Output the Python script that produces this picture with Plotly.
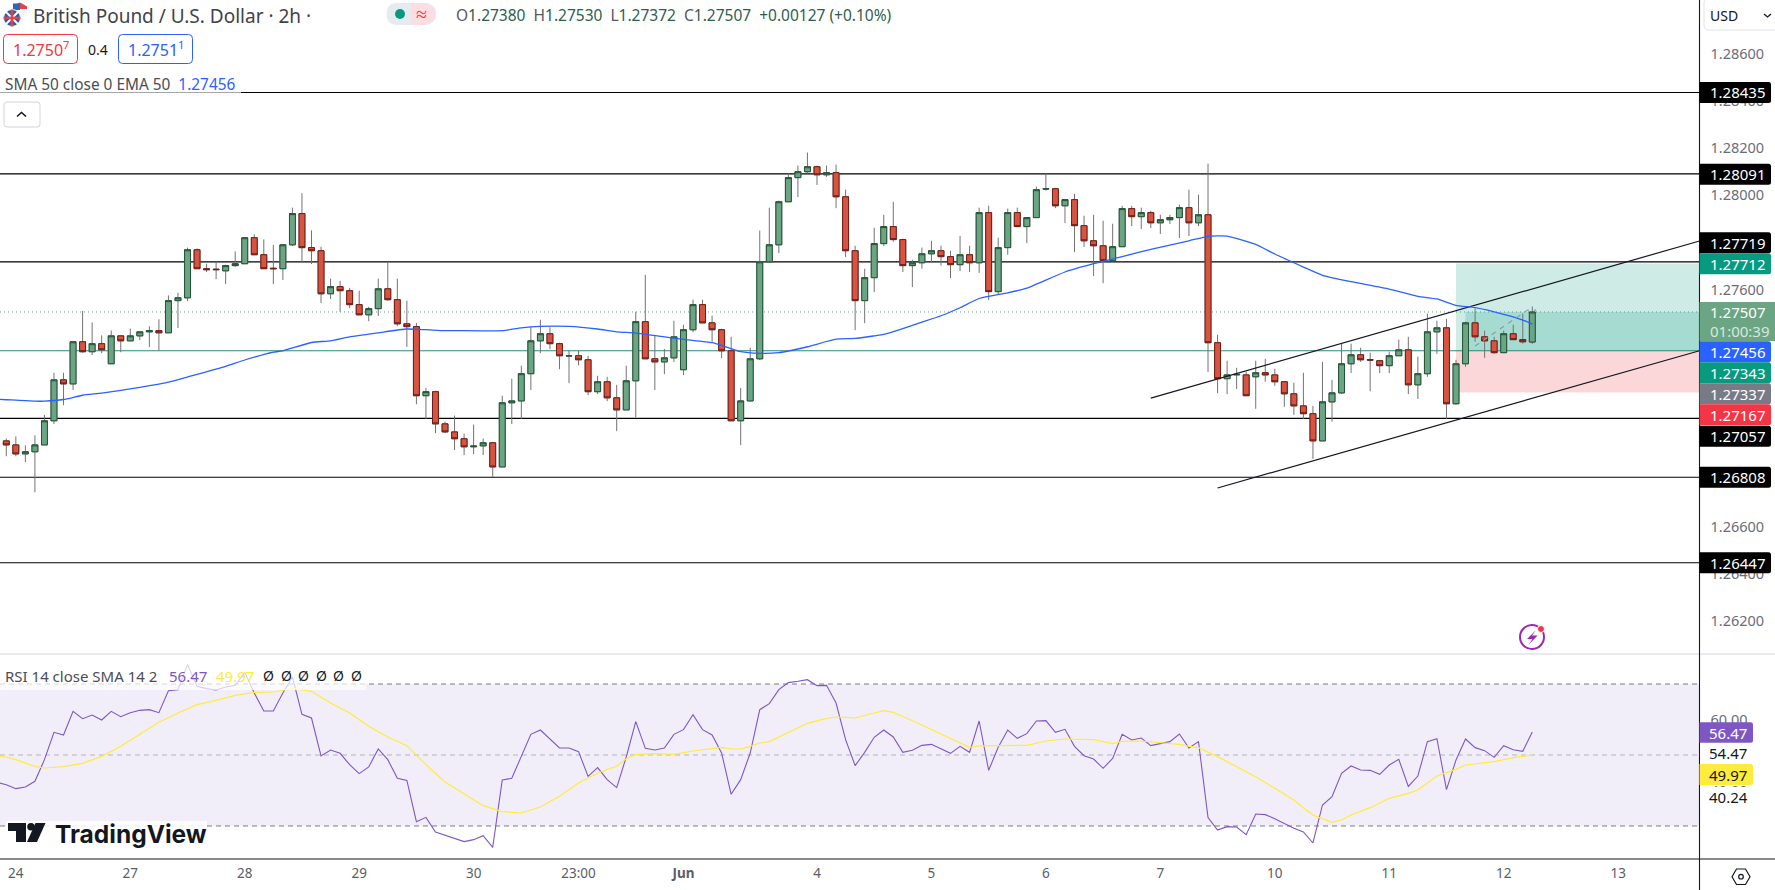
import plotly.graph_objects as go

W, H = 1775, 890
FONT = "Noto Sans"

# ---------- data ----------
bar_index = list(range(161))
open_p = [1.26962,1.26945,1.26907,1.26916,1.26945,1.27047,1.27220,1.27203,1.27381,1.27339,
1.27373,1.27288,1.27406,1.27385,1.27406,1.27423,1.27428,1.27419,1.27555,1.27567,
1.27770,1.27690,1.27688,1.27681,1.27703,1.27711,1.27821,1.27749,1.27692,1.27690,
1.27791,1.27923,1.27779,1.27766,1.27584,1.27614,1.27597,1.27538,1.27495,1.27521,
1.27605,1.27559,1.27457,1.27445,1.27153,1.27170,1.27034,1.27000,1.26971,1.26937,
1.26941,1.26954,1.26852,1.27123,1.27131,1.27246,1.27385,1.27415,1.27373,1.27321,
1.27322,1.27305,1.27170,1.27212,1.27144,1.27093,1.27216,1.27466,1.27309,1.27296,
1.27313,1.27263,1.27432,1.27538,1.27461,1.27432,1.27343,1.27047,1.27131,1.27309,
1.27719,1.27791,1.27973,1.28075,1.28100,1.28121,1.28087,1.28096,1.27994,1.27766,
1.27555,1.27652,1.27796,1.27868,1.27813,1.27703,1.27715,1.27753,1.27766,1.27741,
1.27707,1.27749,1.27715,1.27927,1.27593,1.27779,1.27927,1.27868,1.27906,1.28027,
1.28028,1.27956,1.27982,1.27872,1.27808,1.27787,1.27724,1.27783,1.27944,1.27910,
1.27927,1.27884,1.27897,1.27906,1.27948,1.27884,1.27918,1.27377,1.27225,1.27241,
1.27241,1.27233,1.27250,1.27241,1.27212,1.27161,1.27110,1.27077,1.26962,1.27127,
1.27165,1.27288,1.27326,1.27305,1.27301,1.27280,1.27322,1.27347,1.27199,1.27246,
1.27423,1.27440,1.27119,1.27288,1.27461,1.27402,1.27385,1.27335,1.27415,1.27390,
1.27380]
high_p = [1.26972,1.26981,1.26943,1.26985,1.27072,1.27250,1.27250,1.27385,1.27512,1.27463,
1.27408,1.27429,1.27406,1.27437,1.27423,1.27446,1.27476,1.27577,1.27588,1.27779,
1.27776,1.27711,1.27719,1.27707,1.27763,1.27821,1.27835,1.27814,1.27791,1.27791,
1.27948,1.28009,1.27852,1.27783,1.27648,1.27639,1.27609,1.27597,1.27529,1.27648,
1.27719,1.27648,1.27555,1.27461,1.27186,1.27174,1.27043,1.27069,1.26993,1.27031,
1.26972,1.26958,1.27153,1.27225,1.27280,1.27445,1.27474,1.27442,1.27377,1.27343,
1.27343,1.27322,1.27237,1.27233,1.27199,1.27280,1.27508,1.27664,1.27406,1.27351,
1.27470,1.27453,1.27559,1.27559,1.27491,1.27436,1.27402,1.27186,1.27356,1.27851,
1.27948,1.27978,1.28092,1.28126,1.28181,1.28126,1.28126,1.28130,1.28024,1.27787,
1.27690,1.27863,1.27918,1.27973,1.27817,1.27728,1.27779,1.27808,1.27787,1.27766,
1.27829,1.27787,1.27948,1.27956,1.27821,1.27944,1.27948,1.27906,1.28037,1.28092,
1.28032,1.27982,1.28007,1.27914,1.27918,1.27893,1.27880,1.27956,1.27956,1.27948,
1.27935,1.27918,1.27918,1.27961,1.28024,1.28003,1.28134,1.27411,1.27301,1.27271,
1.27254,1.27301,1.27309,1.27267,1.27212,1.27208,1.27250,1.27110,1.27296,1.27220,
1.27374,1.27373,1.27356,1.27335,1.27305,1.27339,1.27390,1.27402,1.27318,1.27500,
1.27470,1.27478,1.27305,1.27466,1.27521,1.27428,1.27402,1.27428,1.27453,1.27500,
1.27530]
low_p = [1.26897,1.26897,1.26872,1.26745,1.26945,1.27033,1.27113,1.27177,1.27335,1.27325,
1.27333,1.27288,1.27337,1.27385,1.27388,1.27359,1.27343,1.27419,1.27439,1.27553,
1.27690,1.27676,1.27646,1.27625,1.27698,1.27711,1.27749,1.27690,1.27625,1.27642,
1.27786,1.27719,1.27710,1.27545,1.27562,1.27508,1.27523,1.27495,1.27468,1.27490,
1.27555,1.27447,1.27359,1.27117,1.27055,1.26995,1.26995,1.26923,1.26902,1.26906,
1.26902,1.26810,1.26852,1.27033,1.27055,1.27177,1.27333,1.27350,1.27265,1.27206,
1.27282,1.27155,1.27160,1.27130,1.27003,1.27093,1.27062,1.27309,1.27177,1.27244,
1.27296,1.27240,1.27422,1.27461,1.27381,1.27312,1.27047,1.26944,1.27131,1.27304,
1.27719,1.27756,1.27973,1.27993,1.28092,1.28044,1.28078,1.27946,1.27739,1.27430,
1.27460,1.27591,1.27786,1.27804,1.27676,1.27612,1.27690,1.27715,1.27703,1.27650,
1.27680,1.27676,1.27672,1.27557,1.27580,1.27749,1.27868,1.27798,1.27906,1.28020,
1.27946,1.27883,1.27760,1.27782,1.27659,1.27629,1.27724,1.27783,1.27870,1.27858,
1.27862,1.27837,1.27879,1.27820,1.27828,1.27870,1.27253,1.27164,1.27160,1.27181,
1.27153,1.27098,1.27212,1.27195,1.27106,1.27072,1.27055,1.26886,1.26962,1.27043,
1.27161,1.27249,1.27296,1.27172,1.27249,1.27249,1.27322,1.27160,1.27139,1.27233,
1.27330,1.27055,1.27115,1.27275,1.27381,1.27313,1.27330,1.27335,1.27390,1.27373,
1.27372]
close_p = [1.26945,1.26907,1.26916,1.26945,1.27047,1.27220,1.27203,1.27381,1.27339,1.27373,
1.27347,1.27406,1.27385,1.27406,1.27423,1.27428,1.27419,1.27555,1.27567,1.27770,
1.27690,1.27686,1.27686,1.27703,1.27711,1.27821,1.27749,1.27690,1.27690,1.27791,
1.27923,1.27779,1.27766,1.27584,1.27614,1.27597,1.27538,1.27495,1.27521,1.27605,
1.27559,1.27457,1.27445,1.27153,1.27170,1.27034,1.27000,1.26971,1.26937,1.26940,
1.26954,1.26852,1.27123,1.27131,1.27246,1.27385,1.27415,1.27373,1.27322,1.27322,
1.27305,1.27170,1.27212,1.27144,1.27093,1.27216,1.27466,1.27309,1.27296,1.27313,
1.27402,1.27432,1.27538,1.27461,1.27432,1.27343,1.27047,1.27131,1.27309,1.27719,
1.27791,1.27973,1.28075,1.28100,1.28121,1.28087,1.28096,1.27994,1.27766,1.27555,
1.27652,1.27796,1.27868,1.27813,1.27703,1.27715,1.27753,1.27766,1.27741,1.27707,
1.27749,1.27715,1.27927,1.27593,1.27779,1.27927,1.27868,1.27906,1.28024,1.28028,
1.27956,1.27982,1.27872,1.27808,1.27787,1.27724,1.27783,1.27944,1.27910,1.27927,
1.27884,1.27897,1.27906,1.27948,1.27884,1.27918,1.27377,1.27225,1.27241,1.27243,
1.27153,1.27250,1.27241,1.27212,1.27161,1.27110,1.27077,1.26962,1.27127,1.27165,
1.27288,1.27326,1.27305,1.27304,1.27280,1.27322,1.27347,1.27199,1.27246,1.27423,
1.27440,1.27119,1.27288,1.27461,1.27402,1.27385,1.27335,1.27415,1.27390,1.27381,
1.27507]

ema_bars = [-1,0,1,3,4,6,8,10,14,17,19,23,25,28,29,32,34,36,39,42,44,46,47,52,54,56,59,62,64,66,69,71,74,75,77,79,81,84,87,89,91,
            92,94,96,98,100,102,105,107,111,114,117,120,124,126,128,131,133,136,138,141,145,148,150,152,154,157,159,160]
ema_vals = [1.27138,1.27136,1.27134,1.27130,1.27130,1.27137,1.27155,1.27164,1.27188,1.27210,1.27232,1.27277,1.27304,1.27337,1.27343,1.27378,1.27385,1.27402,1.27419,1.27435,1.27432,1.27428,
            1.27428,1.27428,1.27440,1.27446,1.27446,1.27435,1.27423,1.27418,1.27402,1.27391,1.27377,1.27366,1.27339,1.27332,1.27335,1.27360,1.27392,1.27395,1.27406,
            1.27412,1.27437,1.27464,1.27491,1.27525,1.27564,1.27588,1.27608,1.27676,1.27711,1.27741,1.27772,1.27808,1.27827,1.27828,1.27793,1.27752,1.27697,1.27662,1.27635,1.27604,1.27573,1.27562,1.27535,1.27525,1.27497,1.27473,1.27456]

rsi_bars = [-1] + bar_index
rsi_vals = [42.30,41.64,40.52,40.99,42.58,48.69,56.38,55.63,62.30,60.23,61.27,
59.86,62.30,60.80,61.92,62.58,62.77,61.92,68.12,68.40,75.45,
69.34,68.69,68.31,69.15,69.62,73.29,67.46,62.39,62.39,67.46,
71.97,61.46,60.42,49.72,51.41,50.47,47.28,44.74,46.62,51.69,
48.69,43.43,42.86,31.22,32.44,28.31,27.37,26.62,25.59,26.15,
27.28,23.99,42.96,43.43,49.62,55.82,57.04,54.51,51.97,51.97,
50.94,43.99,46.43,43.05,40.80,49.44,59.39,51.88,51.41,51.97,
55.82,57.14,61.36,57.14,55.63,50.56,38.92,43.05,50.56,62.77,
64.46,68.40,70.38,70.75,71.22,69.53,69.62,64.65,54.32,47.00,
50.75,54.98,57.04,55.07,50.75,51.31,52.72,53.00,51.78,50.47,
52.44,50.75,59.58,45.68,52.16,57.04,54.69,56.01,59.58,59.67,
56.38,57.23,52.44,49.81,48.87,46.24,49.06,55.82,54.23,54.79,
52.63,53.19,53.76,55.92,51.97,53.76,32.35,28.87,29.81,29.72,
27.56,33.38,33.19,32.07,30.75,29.34,28.31,25.21,35.92,38.26,
44.84,46.90,45.77,45.68,44.55,47.18,48.78,41.17,44.08,53.76,
54.60,40.23,48.59,54.51,52.07,51.22,49.34,52.63,51.50,51.03,
56.47]

sma_bars = [-1,0,1,3,4,6,8,10,12,14,16,18,20,22,24,26,28,30,32,34,36,38,40,42,44,46,48,50,52,54,56,58,60,62,64,65,66,68,70,72,74,75,76,77,78,79,80,82,84,86,87,88,89,91,92,93,94,96,98,100,101,102,104,106,107,108,109,111,112,114,116,117,119,121,123,124,125,127,129,131,133,135,136,137,139,140,141,143,145,147,148,149,150,151,152,153,155,156,158,160]
sma_vals = [49.62,49.44,48.69,46.81,46.34,46.71,47.65,49.62,52.44,55.73,59.20,61.83,64.18,65.40,66.81,67.65,67.75,68.78,67.93,64.65,61.83,58.08,55.07,52.63,47.28,42.39,39.01,35.73,34.04,33.66,35.35,38.36,42.11,44.93,46.81,48.97,50.09,50.38,50.19,51.13,51.78,52.16,51.69,51.69,52.44,53.38,53.76,56.38,58.92,60.33,60.70,60.61,60.42,61.83,62.49,62.02,60.89,58.45,55.92,53.29,52.16,52.54,52.72,52.72,52.72,53.29,53.94,54.51,54.51,54.32,53.19,53.85,53.94,53.57,53.00,52.44,52.07,49.53,46.71,43.90,40.61,37.32,35.16,33.10,31.03,31.69,33.10,35.16,37.79,39.20,40.14,42.02,44.08,45.02,45.96,47.18,47.84,48.12,49.25,49.97]

black_levels = [1.28435, 1.28091, 1.27719, 1.27057, 1.26808, 1.26447]
entry_price, target_price, stop_price, last_price = 1.27343, 1.27712, 1.27167, 1.27507
channel_top_x, channel_top_y = [120, 177.53], [1.27143, 1.27807]
channel_low_x, channel_low_y = [127, 177.53], [1.26763, 1.27343]
pnl_x, pnl_y = [154, 159.5, 160.4], [1.27363, 1.27515, 1.27515]

price_ticks = [1.286, 1.284, 1.282, 1.280, 1.276, 1.266, 1.264, 1.262]
price_ticktext = ["1.28600","1.28400","1.28200","1.28000","1.27600","1.26600","1.26400","1.26200"]
rsi_ticks = [60, 40]
rsi_ticktext = ["60.00", "40.00"]
time_ticks = [1, 13, 25, 37, 49, 60, 71, 85, 97, 109, 121, 133, 145, 157, 169]
time_labels = ["24","27","28","29","30","23:00","<b>Jun</b>","4","5","6","7","10","11","12","13"]
rsi_bands = [70, 50, 30]

# ---------- geometry ----------
AX_X = 1699.5
PANE_SPLIT = 654.0
PANE_BOTTOM = 859.0
def X(p): return p / W
def Y(p): return 1 - p / H

def rrect(x0, y0, x1, y1, r, left=True):
    rl = r if left else 0
    return (f"M{X(x0+rl)},{Y(y0)} L{X(x1-r)},{Y(y0)} Q{X(x1)},{Y(y0)} {X(x1)},{Y(y0+r)} "
            f"L{X(x1)},{Y(y1-r)} Q{X(x1)},{Y(y1)} {X(x1-r)},{Y(y1)} L{X(x0+rl)},{Y(y1)} "
            f"Q{X(x0)},{Y(y1)} {X(x0)},{Y(y1-rl)} L{X(x0)},{Y(y0+rl)} Q{X(x0)},{Y(y0)} {X(x0+rl)},{Y(y0)} Z")

def poly(pts, close=True):
    s = "M" + " L".join(f"{X(a)},{Y(b)}" for a, b in pts)
    return s + (" Z" if close else "")

fig = go.Figure()

# indicator and drawings below candles
fig.add_trace(go.Scatter(x=channel_top_x, y=channel_top_y, mode="lines", line=dict(color="#131722", width=1.2), hoverinfo="skip"))
fig.add_trace(go.Scatter(x=channel_low_x, y=channel_low_y, mode="lines", line=dict(color="#131722", width=1.2), hoverinfo="skip"))
fig.add_trace(go.Scatter(x=ema_bars, y=ema_vals, mode="lines", line=dict(color="#2962FF", width=1.3, shape="spline", smoothing=0.5), hoverinfo="skip"))
fig.add_trace(go.Scatter(x=pnl_x, y=pnl_y, mode="lines", line=dict(color="#9598A1", width=1.2, dash="5px,5px"), hoverinfo="skip"))

# wicks: full range in grey
fig.add_trace(go.Candlestick(x=bar_index, open=open_p, high=high_p, low=low_p, close=close_p,
    whiskerwidth=0,
    increasing=dict(line=dict(color="#737375", width=1), fillcolor="#6BA583"),
    decreasing=dict(line=dict(color="#737375", width=1), fillcolor="#D75442"), hoverinfo="skip"))
# bodies with dark borders, same open and close
body_hi = [max(a, b) for a, b in zip(open_p, close_p)]
body_lo = [min(a, b) for a, b in zip(open_p, close_p)]
fig.add_trace(go.Candlestick(x=bar_index, open=open_p, high=body_hi, low=body_lo, close=close_p,
    whiskerwidth=0,
    increasing=dict(line=dict(color="#225437", width=1), fillcolor="#6BA583"),
    decreasing=dict(line=dict(color="#6D1E15", width=1), fillcolor="#D75442"), hoverinfo="skip"))

# RSI pane
fig.add_trace(go.Scatter(x=rsi_bars, y=rsi_vals, xaxis="x2", yaxis="y2", mode="lines", line=dict(color="#7E57C2", width=1.1), hoverinfo="skip"))
fig.add_trace(go.Scatter(x=sma_bars, y=sma_vals, xaxis="x2", yaxis="y2", mode="lines", line=dict(color="#FFEB3B", width=1.2), hoverinfo="skip"))

shapes = []
annotations = []

# position tool areas
def hrect(xa, xb, ya, yb, color):
    shapes.append(dict(type="rect", xref="x", yref="y", x0=xa, x1=xb, y0=ya, y1=yb, fillcolor=color, line_width=0, layer="below"))
hrect(152, 177.53, entry_price, target_price, "rgba(8,153,129,0.2)")
hrect(152, 177.53, stop_price, entry_price, "rgba(242,54,69,0.2)")
hrect(153, 177.53, entry_price, last_price, "rgba(8,153,129,0.2)")

# levels
for lv in black_levels:
    shapes.append(dict(type="line", xref="x domain", yref="y", x0=0, x1=1, y0=lv, y1=lv, line=dict(color="#000000", width=1.1), layer="below"))
shapes.append(dict(type="line", xref="x domain", yref="y", x0=0, x1=1, y0=entry_price, y1=entry_price, line=dict(color="#1E8F7A", width=1.1), layer="below"))
shapes.append(dict(type="line", xref="x domain", yref="y", x0=0, x1=1, y0=last_price, y1=last_price, line=dict(color="#6BA583", width=1, dash="1px,3px"), layer="below"))

# RSI band
shapes.append(dict(type="rect", xref="x2 domain", yref="y2", x0=0, x1=1, y0=rsi_bands[2], y1=rsi_bands[0], fillcolor="rgba(126,87,194,0.1)", line_width=0, layer="below"))
for b, col in zip(rsi_bands, ["#787B86", "#B2B5BE", "#787B86"]):
    shapes.append(dict(type="line", xref="x2 domain", yref="y2", x0=0, x1=1, y0=b, y1=b, line=dict(color=col, width=1, dash="5px,4px"), layer="below"))

def pshape(path, fill=None, line=None, lw=0, layer="above"):
    d = dict(type="path", xref="paper", yref="paper", path=path, layer=layer)
    d["fillcolor"] = fill if fill else "rgba(0,0,0,0)"
    d["line"] = dict(color=line if line else "rgba(0,0,0,0)", width=lw)
    shapes.append(d)

def circle(cx, cy, r, fill=None, line=None, lw=0):
    shapes.append(dict(type="circle", xref="paper", yref="paper", x0=X(cx-r), x1=X(cx+r), y0=Y(cy+r), y1=Y(cy-r),
                       fillcolor=fill if fill else "rgba(0,0,0,0)", line=dict(color=line if line else "rgba(0,0,0,0)", width=lw), layer="above"))

def text(x, y, s, size=13, color="#131722", anchor="left", font=FONT, bg=None):
    annotations.append(dict(xref="paper", yref="paper", x=X(x), y=Y(y), text=s, showarrow=False, xanchor=anchor, yanchor="middle",
                            font=dict(family=font, size=size, color=color), align=anchor, borderpad=0, bgcolor=bg))

# separators and axis frame
shapes.append(dict(type="line", xref="paper", yref="paper", x0=0, x1=1, y0=Y(PANE_SPLIT), y1=Y(PANE_SPLIT), line=dict(color="#E0E3EB", width=1.5), layer="below"))
shapes.append(dict(type="line", xref="paper", yref="paper", x0=0, x1=1, y0=Y(PANE_BOTTOM), y1=Y(PANE_BOTTOM), line=dict(color="#131722", width=1.1), layer="above"))
shapes.append(dict(type="line", xref="paper", yref="paper", x0=X(AX_X), x1=X(AX_X), y0=0, y1=1, line=dict(color="#131722", width=1.1), layer="above"))

# price tags
tags = [("1.28435", 92.5, "#000000", "#FFFFFF"), ("1.28091", 174.3, "#000000", "#FFFFFF"), ("1.27719", 242.7, "#000000", "#FFFFFF"),
        ("1.27712", 263.7, "#089981", "#FFFFFF"), ("1.27456", 351.7, "#2962FF", "#FFFFFF"), ("1.27343", 372.7, "#089981", "#FFFFFF"),
        ("1.27337", 393.7, "#787B86", "#FFFFFF"), ("1.27167", 414.7, "#F23645", "#FFFFFF"), ("1.27057", 436.2, "#000000", "#FFFFFF"),
        ("1.26808", 477.3, "#000000", "#FFFFFF"), ("1.26447", 562.7, "#000000", "#FFFFFF")]
for label, yc, bg, fg in tags:
    pshape(rrect(AX_X, yc-10.5, 1771, yc+10.5, 2.5, left=False), fill=bg)
    text(1737.5, yc, label, size=15, color=fg, anchor="center")
# current price tag
pshape(rrect(AX_X, 302, 1775, 341, 0.01, left=False), fill="#6BA583")
text(1737.5, 312.3, "1.27507", size=15, color="#FFFFFF", anchor="center")
text(1740, 330.5, "01:00:39", size=15, color="#D8E8DF", anchor="center")
# RSI tags
pshape(rrect(AX_X, 722.3, 1753, 742.7, 2.5, left=False), fill="#7E57C2")
text(1728, 733, "56.47", size=15, color="#FFFFFF", anchor="center")
pshape(rrect(AX_X+1, 743, 1753, 763.5, 0.01, left=False), fill="#FFFFFF")
text(1728, 753.3, "54.47", size=15, color="#131722", anchor="center")
pshape(rrect(AX_X, 764, 1753, 785, 2.5, left=False), fill="#FFEB3B")
text(1728, 774.5, "49.97", size=15, color="#131722", anchor="center")
pshape(rrect(AX_X+1, 787, 1753, 807, 0.01, left=False), fill="#FFFFFF")
text(1728, 796.7, "40.24", size=15, color="#131722", anchor="center")

# USD dropdown
pshape(rrect(1704, -2, 1790, 30, 5), fill="#FFFFFF", line="#E0E3EB", lw=1)
text(1709, 15.5, "USD", size=14, color="#131722")
pshape(poly([(1764, 14), (1767.5, 17), (1771, 14)], close=False), line="#131722", lw=1.3)

# header
circle(20, 10, 7.5, fill="#F4F4F4")
pshape(poly([(20, 2.5), (27, 6.5), (27, 9), (13, 9), (14, 5)]), fill="#E4414B")
pshape(poly([(13, 3.5), (20, 3.5), (20, 10), (13, 10)]), fill="#2F65B7")
circle(12, 18, 8.5, fill="#2B5DA8", line="#FFFFFF", lw=1)
pshape(poly([(6, 12), (18, 24)], close=False), line="#FFFFFF", lw=2)
pshape(poly([(18, 12), (6, 24)], close=False), line="#FFFFFF", lw=2)
pshape(poly([(12, 9.5), (12, 26.5)], close=False), line="#E4414B", lw=2.5)
pshape(poly([(3.5, 18), (20.5, 18)], close=False), line="#E4414B", lw=2.5)
text(32, 16, "British Pound / U.S. Dollar · 2h ·", size=19, color="#3F424C")
pshape(rrect(386.5, 3, 435.5, 25, 10.9), fill="#E5EBEE")
pshape(poly([(411, 3), (425, 3), (435.5, 9), (435.5, 19), (425, 25), (411, 25)]), fill="#FBDDE2")
circle(400, 14, 5, fill="#089981")
text(421.5, 14, "≈", size=20, color="#F23645", anchor="center")
v = "#2E5E50"
ohlc = (f'O<span style="color:{v}">1.27380</span>  H<span style="color:{v}">1.27530</span>  '
        f'L<span style="color:{v}">1.27372</span>  C<span style="color:{v}">1.27507</span>  '
        f'<span style="color:{v}">+0.00127 (+0.10%)</span>')
text(455, 15, ohlc, size=15.5, color="#55585F")

# buy and sell boxes
pshape(rrect(3.5, 34.5, 77.5, 63.5, 4), fill="#FFFFFF", line="#F23645", lw=1)
text(40.5, 49.5, '1.2750<sup>7</sup>', size=16, color="#F23645", anchor="center")
text(98, 49.5, "0.4", size=14, color="#131722", anchor="center")
pshape(rrect(118.5, 34.5, 192.5, 63.5, 4), fill="#FFFFFF", line="#2962FF", lw=1)
text(155.5, 49.5, '1.2751<sup>1</sup>', size=16, color="#2962FF", anchor="center")

# indicator legends
shapes.append(dict(type="rect", xref="paper", yref="paper", x0=0, x1=X(241), y0=Y(96), y1=Y(72), fillcolor="rgba(255,255,255,0.65)", line_width=0, layer="above"))
text(4, 84.5, 'SMA 50 close 0 EMA 50  <span style="color:#2962FF">1.27456</span>', size=15.4, color="#4A4D57")
pshape(rrect(4, 102, 40, 127, 3), fill="#FFFFFF", line="#D1D4DC", lw=1)
pshape(poly([(17, 116.5), (21.5, 112.5), (26, 116.5)], close=False), line="#131722", lw=1.6)

shapes.append(dict(type="rect", xref="paper", yref="paper", x0=0, x1=X(366), y0=Y(690), y1=Y(655), fillcolor="rgba(255,255,255,0.7)", line_width=0, layer="above"))
text(4, 675.5, 'RSI 14 close SMA 14 2', size=15, color="#4A4D57")
text(168, 675.5, "56.47", size=15, color="#7E57C2")
text(215, 675.5, "49.97", size=15, color="#FFEB3B")
for xp in [268, 286, 303, 321, 338, 356]:
    text(xp, 675.5, "Ø", size=14, color="#131722", anchor="center")

# bolt button
circle(1532, 637, 12, line="#9C27B0", lw=2)
pshape(poly([(1536, 630), (1527, 639), (1532.5, 639), (1528.5, 645), (1537.5, 635.5), (1532, 635.5)]), fill="#9C27B0")
circle(1541, 629, 3.5, fill="#F23645", line="#FFFFFF", lw=1)

# settings hexagon
pshape(poly([(1732, 876.7), (1736.5, 869), (1745.5, 869), (1750, 876.7), (1745.5, 884.5), (1736.5, 884.5)]), line="#131722", lw=1.2)
circle(1741, 876.7, 2.3, line="#131722", lw=1.2)

# logo
shapes.append(dict(type="rect", xref="paper", yref="paper", x0=X(6), x1=X(207), y0=Y(849), y1=Y(821), fillcolor="rgba(255,255,255,0.85)", line_width=0, layer="above"))
pshape(poly([(8, 823), (26, 823), (26, 842), (16, 842), (16, 831), (8, 831)]), fill="#131722")
circle(31, 826.7, 3.8, fill="#131722")
pshape(poly([(45.5, 823), (35.5, 823), (27, 842), (37, 842)]), fill="#131722")
text(54, 834, "<b>TradingView</b>", size=24.5, color="#131722", font="Inter")

fig.update_layout(
    width=W, height=H, margin=dict(l=0, r=0, t=0, b=0), autosize=False,
    paper_bgcolor="#FFFFFF", plot_bgcolor="#FFFFFF", showlegend=False, hovermode=False,
    boxgap=0.38, boxgroupgap=0,
    shapes=shapes, annotations=annotations,
    font=dict(family=FONT, size=13, color="#4A4D57"),
    xaxis=dict(domain=[0, AX_X/W], range=[-0.66, 177.53], anchor="y", showgrid=False, zeroline=False, showticklabels=False,
               rangeslider=dict(visible=False), showline=False, ticks=""),
    yaxis=dict(domain=[Y(PANE_SPLIT), 1], range=[1.26061, 1.28826], side="right", showgrid=False, zeroline=False,
               tickmode="array", tickvals=price_ticks, ticktext=price_ticktext, ticks="", ticklabelstandoff=10,
               showline=False, tickfont=dict(family=FONT, size=14.5, color="#6A6D78")),
    xaxis2=dict(domain=[0, AX_X/W], range=[-0.66, 177.53], anchor="y2", showgrid=False, zeroline=False,
                tickmode="array", tickvals=time_ticks, ticktext=time_labels, ticks="", ticklabelstandoff=4,
                showline=False, tickfont=dict(family=FONT, size=13.5, color="#5A5D68")),
    yaxis2=dict(domain=[Y(PANE_BOTTOM), Y(PANE_SPLIT)], range=[20.7, 78.45], side="right", anchor="x2", showgrid=False, zeroline=False,
                tickmode="array", tickvals=rsi_ticks, ticktext=rsi_ticktext, ticks="", ticklabelstandoff=10,
                showline=False, tickfont=dict(family=FONT, size=14.5, color="#6A6D78")),
)

fig.write_html("out.html", config={"displayModeBar": False},
               post_script="document.body.style.margin='0';document.body.style.overflow='hidden';")
